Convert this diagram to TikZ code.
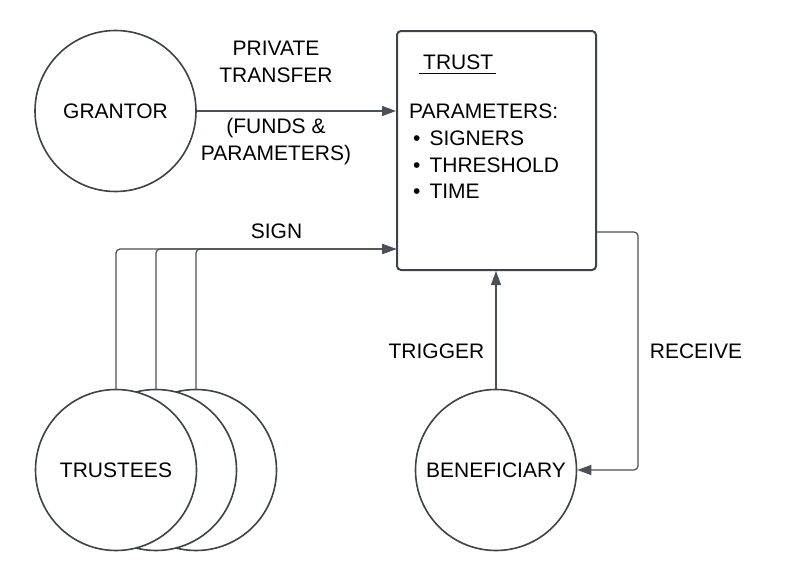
\documentclass[tikz,border=0pt]{standalone}
\usepackage{fontspec}
\setmainfont{Liberation Sans}
\usetikzlibrary{arrows.meta}
\definecolor{edge}{HTML}{3D434B}
\definecolor{wire}{HTML}{4A5058}

\begin{document}
\begin{tikzpicture}[x=1pt, y=-1pt, font=\fontsize{21}{27}\selectfont]
		\tikzset{nd/.style={circle, draw=edge, line width=1.6pt, fill=white, minimum size=161pt, inner sep=0pt}};
		\tikzset{bx/.style={draw=edge, line width=2pt, rounded corners=4pt, minimum width=199pt, minimum height=239pt}};
		\tikzset{lbl/.style={align=center, inner sep=0pt}};
		\tikzset{itm/.style={anchor=base west, inner sep=0pt}};
		\tikzset{wr/.style={draw=wire, line width=1.2pt, rounded corners=4pt, -{Triangle[length=14pt, width=10pt]}}};

		\useasboundingbox (0,0) rectangle (785,581);

		\node[nd] (grantor) at (115.5, 111) {GRANTOR};
		\node[bx] (trust) at (496.5, 150.5) {};
		\node[nd] (t3) at (196, 470) {};
		\node[nd] (t2) at (156, 470) {};
		\node[nd] (t1) at (116, 470) {TRUSTEES};
		\node[nd] (benef) at (496, 470) {BENEFICIARY};

		\node[itm] (title) at (423, 69) {TRUST};
		\draw[line width=1.1pt] ([xshift=-4pt, yshift=-4.5pt]title.base west) -- ([xshift=3pt, yshift=-4.5pt]title.base east);
		\node[itm] (par) at (409, 118) {PARAMETERS:};
		\node[itm] (p1) at (413, 145) {\textbullet\hspace{9pt}SIGNERS};
		\node[itm] (p2) at (413, 172) {\textbullet\hspace{9pt}THRESHOLD};
		\node[itm] (p3) at (413, 198) {\textbullet\hspace{9pt}TIME};

		\node[lbl] (transfer) at (276, 61.5) {PRIVATE\\TRANSFER};
		\node[lbl] (funds) at (276, 142) {(FUNDS \&\\PARAMETERS)};
		\node[lbl] (sign) at (276.5, 231) {SIGN};
		\node[lbl] (trigger) at (436.5, 351.5) {TRIGGER};
		\node[lbl] (receive) at (696, 351.5) {RECEIVE};

		\draw[wr] (grantor.east) -- (grantor.east -| trust.west);

		\draw[wr] (t1.north) |- ([yshift=22pt]trust.south west);
		\draw[wr] (t2.north) |- ([yshift=22pt]trust.south west);
		\draw[wr] (t3.north) |- ([yshift=22pt]trust.south west);

		\draw[wr] (benef.north) -- (benef.north |- trust.south);

		\draw[wr] ([yshift=39pt]trust.south east) -- ++(41, 0) |- (benef.east);
	\end{tikzpicture}
\end{document}
